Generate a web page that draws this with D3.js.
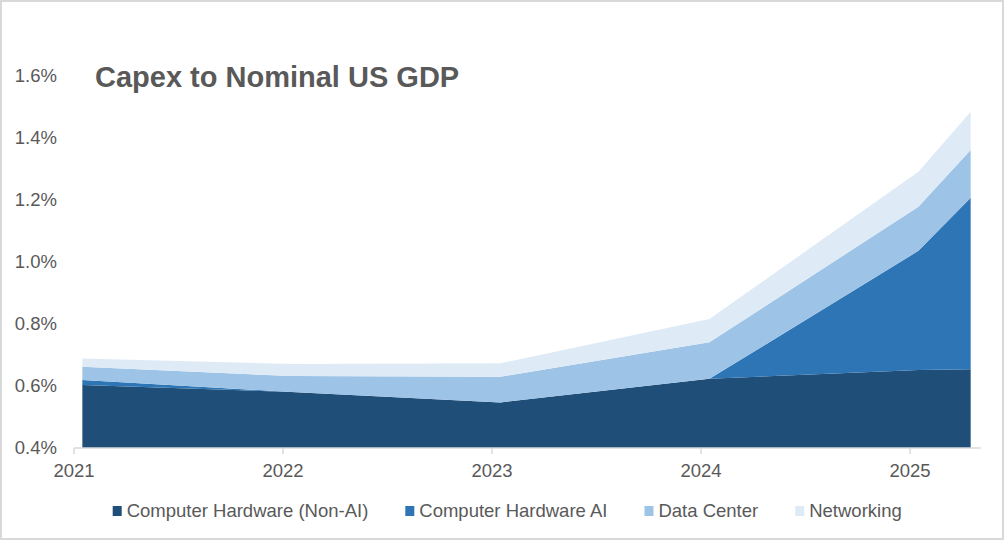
<!DOCTYPE html>
<html>
<head>
<meta charset="utf-8">
<script src="https://cdn.jsdelivr.net/npm/d3@7/dist/d3.min.js"></script>
<style>
  html, body { margin: 0; padding: 0; background: #fff; }
  svg { display: block; }
  text { font-family: "Liberation Sans", Arial, sans-serif; fill: #595959; }
</style>
</head>
<body>
<svg id="chart" width="1005" height="541"></svg>
<script>
// ---- data (% of nominal US GDP) ----
const periods = [2021.04, 2022.04, 2023.04, 2024.04, 2025.04, 2025.29];
const hardwareNonAI = [0.603, 0.581, 0.547, 0.623, 0.652, 0.654];
const hardwareAI    = [0.016, 0.000, 0.000, 0.000, 0.384, 0.553];
const dataCenter    = [0.043, 0.051, 0.083, 0.118, 0.142, 0.154];
const networking    = [0.027, 0.039, 0.043, 0.075, 0.113, 0.124];
const seriesNames = ["Computer Hardware (Non-AI)", "Computer Hardware AI", "Data Center", "Networking"];
const yTicks = [0.4, 0.6, 0.8, 1.0, 1.2, 1.4, 1.6];
const xTicks = [2021, 2022, 2023, 2024, 2025];
const title = "Capex to Nominal US GDP";

const colors = ["#1f4e79", "#2e75b6", "#9dc3e6", "#deebf7"];
const keys = ["nonai", "ai", "dc", "net"];
const rows = periods.map((p, i) => ({
  x: p, nonai: hardwareNonAI[i], ai: hardwareAI[i], dc: dataCenter[i], net: networking[i]
}));

const svg = d3.select("#chart");

// border
svg.append("rect").attr("x", 1).attr("y", 1).attr("width", 1002).attr("height", 538)
  .attr("fill", "#fff").attr("stroke", "#d9d9d9").attr("stroke-width", 2);

const x = d3.scaleLinear().domain([2021, 2025.338]).range([74, 980.7]);
const y = d3.scaleLinear().domain([0.4, 1.6]).range([448, 76]).clamp(true);

const stack = d3.stack().keys(keys);
const layers = stack(rows);

const area = d3.area()
  .x(d => x(d.data.x))
  .y0(d => y(d[0]))
  .y1(d => y(d[1]));

svg.append("g").selectAll("path").data(layers).join("path")
  .attr("d", area)
  .attr("fill", (d, i) => colors[i]);

// x axis
const gx = svg.append("g");
gx.append("line").attr("x1", 74).attr("x2", 980.7).attr("y1", 448).attr("y2", 448)
  .attr("stroke", "#d9d9d9").attr("stroke-width", 1.5);
gx.selectAll("line.tick").data(xTicks).join("line").attr("class", "tick")
  .attr("x1", d => x(d)).attr("x2", d => x(d)).attr("y1", 448).attr("y2", 454)
  .attr("stroke", "#d9d9d9").attr("stroke-width", 1.5);
gx.selectAll("text").data(xTicks).join("text")
  .attr("x", d => x(d)).attr("y", 477).attr("text-anchor", "middle")
  .attr("font-size", "18.5px").text(d => d);

// y axis labels
svg.append("g").selectAll("text").data(yTicks).join("text")
  .attr("x", 57).attr("y", d => y(d)).attr("dy", "0.35em").attr("text-anchor", "end")
  .attr("font-size", "18.5px").text(d => d.toFixed(1) + "%");

// title
svg.append("text").attr("x", 95).attr("y", 87).attr("font-size", "29px")
  .attr("font-weight", "bold").text(title);

// legend
const lg = svg.append("g");
let lx = 112.7;
seriesNames.forEach((name, i) => {
  lg.append("rect").attr("x", lx).attr("y", 506).attr("width", 9).attr("height", 10)
    .attr("fill", colors[i]);
  const t = lg.append("text").attr("x", lx + 14).attr("y", 517.3)
    .attr("font-size", "18.5px").text(name);
  lx += 14 + t.node().getComputedTextLength() + 37;
});
</script>
</body>
</html>
